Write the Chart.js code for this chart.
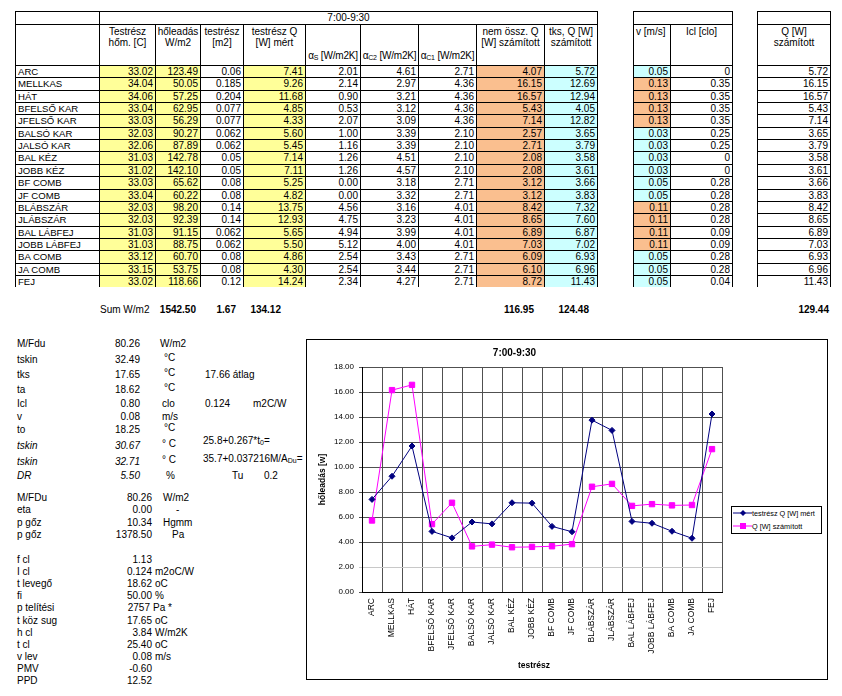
<!DOCTYPE html>
<html><head><meta charset="utf-8">
<script src="https://cdn.jsdelivr.net/npm/chart.js@4.4.0/dist/chart.umd.min.js"></script>
<style>
body{margin:0;background:#fff;width:842px;height:696px;overflow:hidden;font-family:"Liberation Sans",Arial,sans-serif;font-size:10px;color:#000;position:relative}
.a{position:absolute;white-space:nowrap;line-height:12px}
.c{position:absolute;box-sizing:border-box;border-left:1px solid #000;border-top:1px solid #000;white-space:nowrap;overflow:visible}
.ln{position:absolute;background:#000}
sub{font-size:7px;vertical-align:-1px;line-height:0}
</style></head><body>
<div id="chartBox" style="position:absolute;left:306px;top:339px;width:522px;height:341px;box-sizing:border-box;border:1px solid #000"><canvas id="cv" width="520" height="339"></canvas></div>
<div id="legend" style="position:absolute;left:731px;top:506px;width:91px;height:28px;box-sizing:border-box;border:1px solid #000;background:#fff;font-size:7.3px"></div>
<script>
// ---------- data ----------
const bodyParts = ['ARC','MELLKAS','HÁT','BFELSŐ KAR','JFELSŐ KAR','BALSÓ KAR','JALSÓ KAR','BAL KÉZ','JOBB KÉZ','BF COMB','JF COMB','BLÁBSZÁR','JLÁBSZÁR','BAL LÁBFEJ','JOBB LÁBFEJ','BA COMB','JA COMB','FEJ'];
const bodyTemp = [33.02,34.04,34.06,33.04,33.03,32.03,32.06,31.03,31.02,33.03,33.04,32.03,32.03,31.03,31.03,33.12,33.15,33.02];
const heatFlux = [123.49,50.05,57.25,62.95,56.29,90.27,87.89,142.78,142.10,65.62,60.22,98.20,92.39,91.15,88.75,60.70,53.75,118.66];
const partArea = [0.06,0.185,0.204,0.077,0.077,0.062,0.062,0.05,0.05,0.08,0.08,0.14,0.14,0.062,0.062,0.08,0.08,0.12];
const qMeasured = [7.41,9.26,11.68,4.85,4.33,5.60,5.45,7.14,7.11,5.25,4.82,13.75,12.93,5.65,5.50,4.86,4.30,14.24];
const alphaS = [2.01,2.14,0.90,0.53,2.07,1.00,1.16,1.26,1.26,0.00,0.00,4.56,4.75,4.94,5.12,2.54,2.54,2.34];
const alphaC2 = [4.61,2.97,3.21,3.12,3.09,3.39,3.39,4.51,4.57,3.18,3.32,3.16,3.23,3.99,4.00,3.43,3.44,4.27];
const alphaC1 = [2.71,4.36,4.36,4.36,4.36,2.10,2.10,2.10,2.10,2.71,2.71,4.01,4.01,4.01,4.01,2.71,2.71,2.71];
const qNonSum = [4.07,16.15,16.57,5.43,7.14,2.57,2.71,2.08,2.08,3.12,3.12,8.42,8.65,6.89,7.03,6.09,6.10,8.72];
const qTks = [5.72,12.69,12.94,4.05,12.82,3.65,3.79,3.58,3.61,3.66,3.83,7.32,7.60,6.87,7.02,6.93,6.96,11.43];
const vAir = [0.05,0.13,0.13,0.13,0.13,0.03,0.03,0.03,0.03,0.05,0.05,0.11,0.11,0.11,0.11,0.05,0.05,0.05];
const iclClo = [0,0.35,0.35,0.35,0.35,0.25,0.25,0,0,0.28,0.28,0.28,0.28,0.09,0.09,0.28,0.28,0.04];
const qCalc = [5.72,16.15,16.57,5.43,7.14,3.65,3.79,3.58,3.61,3.66,3.83,8.42,8.65,6.89,7.03,6.93,6.96,11.43];
const sums = ['1542.50','1.67','134.12','116.95','124.48','129.44'];
const yTicks = [0,2,4,6,8,10,12,14,16,18];

// ---------- spreadsheet ----------
const body = document.body;
function el(cls, x, y, w, h, html, style){
  const d=document.createElement('div'); d.className=cls;
  d.style.left=x+'px'; d.style.top=y+'px';
  if(w!=null) d.style.width=w+'px'; if(h!=null) d.style.height=h+'px';
  if(html!=null) d.innerHTML=html; if(style) d.style.cssText+=style;
  body.appendChild(d); return d;
}
function cell(x1,x2,y1,y2,html,style){ return el('c',x1,y1,x2-x1,y2-y1,html,style); }
function vline(x,y1,y2){ el('ln',x,y1,1,y2-y1); }
const rowTop = i => Math.round(65 + i*12.35);
const YEL='#FFFF99', ORA='#FABF8F', CYA='#CCFFFF';
const cols=[15,99,155,200,243,305,360,418,476,544,597];
const f2=v=>v.toFixed(2);
const colData=[
  {v:bodyParts, fmt:s=>s, left:true},
  {v:bodyTemp, fmt:f2, bg:YEL, h:'Testrész<br>hőm. [C]'},
  {v:heatFlux, fmt:f2, bg:YEL, h:'hőleadás<br>W/m2'},
  {v:partArea, fmt:String, h:'testrész<br>[m2]'},
  {v:qMeasured, fmt:f2, bg:YEL, h:'testrész Q<br>[W] mért'},
  {v:alphaS, fmt:f2, hb:'α<sub>S</sub> [W/m2K]'},
  {v:alphaC2, fmt:f2, hb:'α<sub>C2</sub> [W/m2K]'},
  {v:alphaC1, fmt:f2, hb:'α<sub>C1</sub> [W/m2K]'},
  {v:qNonSum, fmt:f2, bg:ORA, h:'nem össz. Q<br>[W] számított'},
  {v:qTks, fmt:f2, bg:CYA, h:'tks, Q [W]<br>számított'}
];
const H1=11,H2=24,H3=65;
cell(15,99,H1,H2,'');
cell(99,597,H1,H2,'7:00-9:30','text-align:center;line-height:12px');
colData.forEach((c,k)=>{
  const x1=cols[k],x2=cols[k+1];
  if(c.hb) cell(x1,x2,H2,H3,c.hb,'text-align:center;line-height:11px;padding-top:25px;letter-spacing:-0.2px');
  else cell(x1,x2,H2,H3,c.h||'','text-align:center;line-height:11px;padding-top:1px');
  c.v.forEach((val,i)=>{
    const y1=rowTop(i),y2=rowTop(i+1);
    cell(x1,x2,y1,y2,c.fmt(val),`line-height:${y2-y1-1}px;${c.left?'padding-left:2px;font-size:9.6px':'text-align:right;padding-right:2px'};${c.bg?'background:'+c.bg:''}`);
  });
});
vline(597,H1,rowTop(18));
// v / Icl table
cell(633,732,H1,H2,'');
cell(633,670,H2,H3,'v [m/s]','line-height:11px;padding:1px 0 0 2px');
cell(670,732,H2,H3,'Icl [clo]','line-height:11px;padding-top:1px;text-align:center');
vAir.forEach((v,i)=>{const y1=rowTop(i),y2=rowTop(i+1);
  cell(633,670,y1,y2,f2(v),`line-height:${y2-y1-1}px;text-align:right;padding-right:2px;background:${v>0.1?ORA:CYA}`);
  cell(670,732,y1,y2,String(iclClo[i]),`line-height:${y2-y1-1}px;text-align:right;padding-right:2px`);
});
vline(732,H1,rowTop(18));
// Q table
cell(757,830,H1,H2,'');
cell(757,830,H2,H3,'Q [W]<br>számított','line-height:11px;padding-top:1px;text-align:center');
qCalc.forEach((v,i)=>{const y1=rowTop(i),y2=rowTop(i+1);
  cell(757,830,y1,y2,f2(v),`line-height:${y2-y1-1}px;text-align:right;padding-right:2px`);
});
vline(830,H1,rowTop(18));

// sum row
function txt(x,y,html,style){ return el('a',x,y-6,null,null,html,style); }
function rtxt(xr,y,html,style){ return el('a',xr-200,y-6,200,null,html,'text-align:right;'+(style||'')); }
txt(100,310,'Sum W/m2');
[197,237,282,535,590,830].forEach((xr,i)=>rtxt(xr-1,310,sums[i],'font-weight:bold'));

// left parameter block
const block1=[
 ['M/Fdu','80.26','W/m2',160,344],
 ['tskin','32.49','°C',164,360],
 ['tks','17.65','°C',164,375],
 ['ta','18.62','°C',164,390],
 ['Icl','0.80','clo',162,404],
 ['v','0.08','m/s',162,417],
 ['to','18.25','°C',164,430],
 ['tskin','30.67','° C',162,446,true],
 ['tskin','32.71','° C',162,462,true],
 ['DR','5.50','%',166,476,true]
];
block1.forEach(r=>{
  const it=r[5]?'font-style:italic':'';
  txt(17,r[4],r[0],it); rtxt(140,r[4],r[1],it); txt(r[3],r[4]-(r[2].indexOf('C')>=0?2:0),r[2]);
});
txt(205,375,'17.66 átlag');
txt(205,404,'0.124');
txt(253,404,'m2C/W');
txt(203,441,'25.8+0.267*t<sub>0</sub>=');
txt(203,459,'35.7+0.037216M/A<sub>Du</sub>=');
txt(232,476,'Tu'); txt(264,476,'0.2');
const block2=[['M/FDu','80.26','W/m2',163,498],['eta','0.00','-',176,510],['p gőz','10.34','Hgmm',163,523],['p gőz','1378.50','Pa',172,535]];
block2.forEach(r=>{txt(17,r[4],r[0]); rtxt(152,r[4],r[1]); txt(r[3],r[4],r[2]);});
const block3=[['f cl','1.13',''],['I cl','0.124','m2oC/W'],['t levegő','18.62','oC'],['fi','50.00','%'],['p telítési','2757','Pa *'],['t köz sug','17.65','oC'],['h cl','3.84','W/m2K'],['t cl','25.40','oC'],['v lev','0.08','m/s'],['PMV','-0.60',''],['PPD','12.52','']];
block3.forEach((r,i)=>{const y=560+i*12.1; txt(17,y,r[0]); rtxt(r[1]==='2757'?150:152,y,r[1]); if(r[2]) txt(r[1]==='2757'?153:155,y,r[2]);});

// legend
const legendItems=[
 {t:'testrész Q [W] mért',c:'#000080',m:'<polygon points="10,1 13,4 10,7 7,4" fill="#000080"/>'},
 {t:'Q [W] számított',c:'#FF00FF',m:'<rect x="7" y="1" width="6" height="6" fill="#FF00FF"/>'}
];
const lg=document.getElementById('legend');
legendItems.forEach((it,i)=>{
  const d=document.createElement('div');
  d.style.cssText=`position:absolute;left:1px;top:${2+i*13}px;height:9px;white-space:nowrap;line-height:9px`;
  d.innerHTML=`<svg width="19" height="8" style="vertical-align:-1px"><line x1="0" y1="4" x2="19" y2="4" stroke="${it.c}" stroke-width="1"/>${it.m}</svg>${it.t}`;
  lg.appendChild(d);
});

// ---------- chart ----------
const FONT='"Liberation Sans", Arial, sans-serif';
const xTitlePlugin={id:'xTitle',afterDraw(chart){
  const c=chart.ctx, a=chart.chartArea;
  c.save(); c.font='bold 8.5px '+FONT; c.fillStyle='#000'; c.textAlign='center'; c.textBaseline='middle';
  c.fillText('testrész',(a.left+a.right)/2-8,chart.height-13); c.restore();
}};
new Chart(document.getElementById('cv').getContext('2d'),{
  type:'line',
  data:{labels:bodyParts,datasets:[
    {label:'testrész Q [W] mért',data:qMeasured,borderColor:'#000080',backgroundColor:'#000080',borderWidth:1,pointStyle:'rectRot',pointRadius:3,pointBorderWidth:1,tension:0},
    {label:'Q [W] számított',data:qCalc,borderColor:'#FF00FF',backgroundColor:'#FF00FF',borderWidth:1,pointStyle:'rect',pointRadius:3.8,pointBorderWidth:1,tension:0}
  ]},
  plugins:[xTitlePlugin],
  options:{
    responsive:false,animation:false,
    layout:{padding:{top:0,right:105,bottom:0,left:0}},
    plugins:{
      legend:{display:false},tooltip:{enabled:false},
      title:{display:true,text:'7:00-9:30',color:'#000',font:{family:FONT,size:10,weight:'bold'},padding:{top:7,bottom:8}}
    },
    scales:{
      x:{offset:true,
        grid:{offset:true,color:'#505050',lineWidth:1,drawTicks:false},
        border:{color:'#000',width:1},
        ticks:{autoSkip:false,maxRotation:90,minRotation:90,color:'#000',font:{family:FONT,size:8.5},padding:6},
        title:{display:false},
        afterFit(s){s.height=87;}
      },
      y:{min:0,max:18,
        afterBuildTicks(s){s.ticks=yTicks.map(v=>({value:v}));},
        grid:{color:c=>(c.tick&&c.tick.value===2)?'#c8c8c8':'#505050',lineWidth:1,tickLength:3},
        border:{color:'#000',width:1},
        ticks:{color:'#000',font:{family:FONT,size:8},padding:5,callback:v=>Number(v).toFixed(2)},
        title:{display:true,text:'hőleadás [w]',color:'#000',font:{family:FONT,size:8.5,weight:'bold'},padding:{top:11,bottom:0}},
        afterFit(s){s.width=55;}
      }
    }
  }
});
</script>
</body></html>
